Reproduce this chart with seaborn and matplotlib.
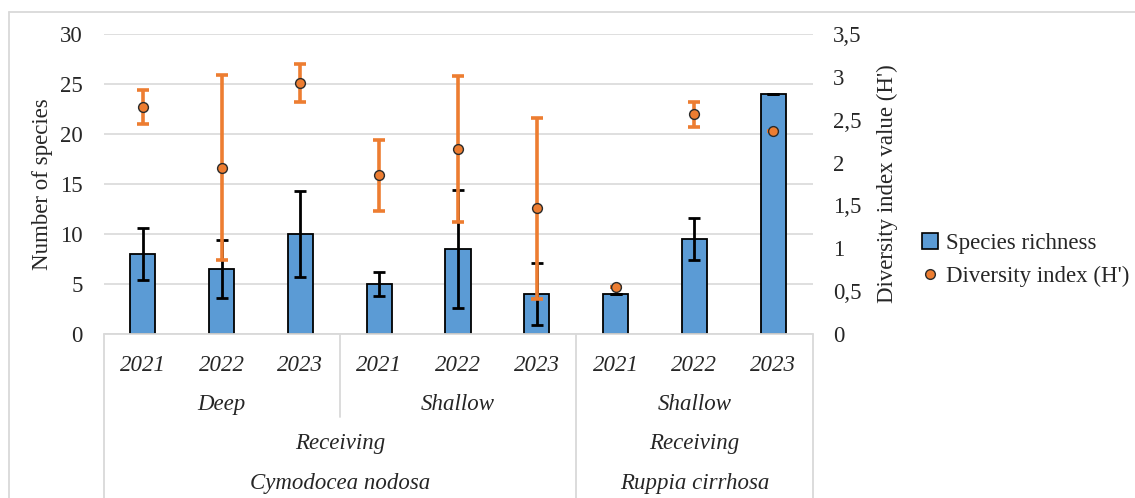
import numpy as np
import pandas as pd
import matplotlib
matplotlib.use("Agg")
import matplotlib.pyplot as plt
from matplotlib.lines import Line2D
from matplotlib.ticker import FuncFormatter, MultipleLocator
import seaborn as sns

# ---- data -------------------------------------------------------------
years = ["2021", "2022", "2023", "2021", "2022", "2023", "2021", "2022", "2023"]
depth_groups = ["Deep", "Shallow", "Shallow"]
site_groups = ["Receiving", "Receiving"]
species_groups = ["Cymodocea nodosa", "Ruppia cirrhosa"]

richness = [8, 6.5, 10, 5, 8.5, 4, 4, 9.5, 24]
richness_err = [2.6, 2.9, 4.3, 1.2, 5.9, 3.1, 0, 2.1, 0]
diversity = [2.65, 1.94, 2.93, 1.85, 2.16, 1.465, 0.55, 2.565, 2.37]
diversity_err = [0.2, 1.08, 0.22, 0.41, 0.85, 1.055, 0, 0.145, 0]

slots = [f"{i}-{y}" for i, y in enumerate(years)]
df = pd.DataFrame({"slot": slots, "richness": richness, "diversity": diversity})

BLUE = "#5b9bd5"
ORANGE = "#ed7d31"
GRID = "#d9d9d9"
FS = 16.5

sns.set_theme(style="white")
plt.rcParams["font.family"] = ["Liberation Serif", "DejaVu Serif"]
plt.rcParams["font.size"] = FS

W, H = 1135, 498
fig = plt.figure(figsize=(W / 100, H / 100), dpi=100)
ax = fig.add_axes([103.5 / W, 1 - 334 / H, 709 / W, 300 / H])

# ---- bars: species richness ------------------------------------------
sns.barplot(data=df, x="slot", y="richness", color=BLUE, width=0.32,
            edgecolor="black", linewidth=1.3, saturation=1, errorbar=None,
            ax=ax, zorder=2)
pos = np.arange(len(slots))
ax.errorbar(pos, richness, yerr=richness_err, fmt="none", ecolor="black",
            elinewidth=2, capsize=4, capthick=2, zorder=3)

ax.set_ylim(0, 30)
ax.set_xlim(-0.5, len(slots) - 0.5)
ax.yaxis.set_major_locator(MultipleLocator(5))
ax.grid(axis="y", color=GRID, linewidth=1.2, zorder=0)
ax.set_axisbelow(True)
for s in ax.spines.values():
    s.set_visible(False)
ax.tick_params(axis="y", length=0, pad=15, labelsize=FS)
ax.tick_params(axis="x", length=0, pad=15)
ax.set_xticks(pos)
ax.set_xticklabels(years, fontstyle="italic", fontsize=FS)
ax.set_xlabel("")
ax.set_ylabel("Number of species", fontsize=FS, labelpad=5)

# ---- points: diversity index on secondary axis -----------------------
ax2 = ax.twinx()
ax2.errorbar(pos, diversity, yerr=diversity_err, fmt="none", ecolor=ORANGE,
             elinewidth=2.6, capsize=4, capthick=2.6, zorder=3)
sns.scatterplot(data=df, x="slot", y="diversity", color=ORANGE, s=50,
                edgecolor="#2b2b2b", linewidth=1, ax=ax2, zorder=4, legend=False)
ax2.set_ylim(0, 3.5)
ax2.yaxis.set_major_locator(MultipleLocator(0.5))
ax2.yaxis.set_major_formatter(
    FuncFormatter(lambda v, _: f"{v:g}".replace(".", ",")))
for s in ax2.spines.values():
    s.set_visible(False)
ax2.tick_params(axis="y", length=0, pad=15, labelsize=FS)
ax2.set_ylabel("Diversity index value (H')", fontsize=FS, labelpad=11)
ax2.set_xlabel("")

# ---- multi-level category table below the axis ------------------------
bx = ax.get_xaxis_transform()
line_kw = dict(color=GRID, linewidth=1.3, clip_on=False, transform=bx)


def yfrac(py):
    """Pixel row (from top of figure) to axes-fraction y."""
    return (334 - py) / 300


ax.plot([-0.5, 8.5], [0, 0], **line_kw)
ax.plot([-0.5, -0.5], [0, yfrac(510)], **line_kw)
ax.plot([2.5, 2.5], [0, yfrac(417)], **line_kw)
ax.plot([5.5, 5.5], [0, yfrac(510)], **line_kw)
ax.plot([8.5, 8.5], [0, yfrac(510)], **line_kw)

txt_kw = dict(transform=bx, ha="center", va="center", fontstyle="italic",
              fontsize=FS, clip_on=False)
for i, lab in enumerate(depth_groups):
    ax.text(3 * i + 1, yfrac(404), lab, **txt_kw)
ax.text(2.5, yfrac(443), site_groups[0], **txt_kw)
ax.text(7, yfrac(443), site_groups[1], **txt_kw)
ax.text(2.5, yfrac(483), species_groups[0], **txt_kw)
ax.text(7, yfrac(483), species_groups[1], **txt_kw)

# ---- legend -----------------------------------------------------------
handles = [
    Line2D([], [], linestyle="none", marker="s", markersize=11,
           markerfacecolor=BLUE, markeredgecolor="black", markeredgewidth=1.2,
           label="Species richness"),
    Line2D([], [], linestyle="none", marker="o", markersize=7,
           markerfacecolor=ORANGE, markeredgecolor="#2b2b2b",
           markeredgewidth=1, label="Diversity index (H')"),
]
fig.legend(handles=handles, loc="center left",
           bbox_to_anchor=(912 / W, 1 - 260 / H), frameon=False,
           fontsize=FS, handlelength=0.8, handletextpad=0.3,
           labelspacing=0.5, borderaxespad=0)

# ---- outer chart frame (top and left edges) ---------------------------
fig.add_artist(Line2D([8.5 / W, 1], [1 - 12.5 / H, 1 - 12.5 / H],
                      color=GRID, linewidth=1.3))
fig.add_artist(Line2D([8.5 / W, 8.5 / W], [1 - 12.5 / H, 0],
                      color=GRID, linewidth=1.3))

fig.savefig("out.png", dpi=100, facecolor="white")
